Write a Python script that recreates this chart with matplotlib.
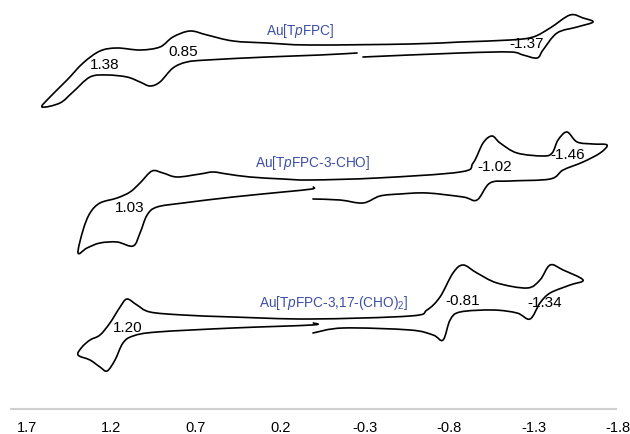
import matplotlib
import matplotlib.pyplot as plt
from matplotlib.path import Path
from matplotlib.patches import PathPatch

matplotlib.use("Agg")

plt.rcParams["font.family"] = ["Liberation Sans", "DejaVu Sans"]
plt.rcParams["mathtext.fontset"] = "custom"
plt.rcParams["mathtext.rm"] = "Liberation Sans"
plt.rcParams["mathtext.it"] = "Liberation Sans:italic"
plt.rcParams["axes.unicode_minus"] = False

# potential (V) and current (arb. units) for each voltammogram
# each trace runs from the start gap near -0.3 V, out to the cathodic end, over to
# the anodic end and back to the gap
cv1_e = [-0.289, -0.864, -1.160, -1.237, -1.320, -1.355, -1.438, -1.557, -1.651,
         -1.592, -1.515, -1.397, -1.296, -1.160, -0.864, -0.568, 0.024, 0.279, 0.480,
         0.634, 0.735, 0.836, 0.913, 1.031, 1.167, 1.268, 1.368, 1.463, 1.564, 1.611,
         1.505, 1.428, 1.327, 1.226, 1.108, 1.031, 0.972, 0.913, 0.836, 0.753, 0.634,
         0.279, -0.035, -0.254]
cv1_i = [-7, -3, -2, -5, -8, 0, 17, 23, 28,
         32, 35, 22, 13, 10, 8, 6, 5, 7, 9,
         15, 19, 13, 3, 0, 2, -1, -13, -30, -47, -57,
         -53, -42, -27, -25, -27, -32, -36, -32, -18, -12, -10,
         -7, -5, -3]

cv2_e = [0.007, -0.153, -0.289, -0.390, -0.509, -0.668, -0.882, -0.964, -1.041, -1.160,
         -1.397, -1.474, -1.592, -1.693, -1.734,
         -1.651, -1.557, -1.497, -1.444, -1.409, -1.355, -1.201, -1.101, -1.053,
         -1.000, -0.941, -0.864, -0.372, 0.024, 0.184, 0.380, 0.516, 0.599, 0.676,
         0.812, 0.895, 0.960, 1.031, 1.090, 1.167, 1.268, 1.327, 1.368, 1.398,
         1.345, 1.268, 1.167, 1.072, 1.031, 0.989, 0.930, 0.776, 0.480, 0.184,
         0.013, 0.005]
cv2_i = [-14, -15, -18, -11, -9, -8, -12, -15, 2, 4,
         6, 15, 23, 32, 40,
         41, 43, 53, 45, 32, 29, 32, 42, 49,
         42, 22, 13, 7, 5, 6, 8, 11, 13, 11,
         8, 12, 14, 2, -7, -13, -18, -28, -45, -68,
         -63, -58, -57, -61, -48, -30, -22, -18, -12, -7,
         -4, -2]

cv3_e = [0.007, -0.171, -0.568, -0.704, -0.763, -0.805, -0.864, -1.059, -1.201,
         -1.278, -1.337, -1.397, -1.515, -1.592,
         -1.474, -1.397, -1.337, -1.261, -1.083, -0.964, -0.882, -0.822, -0.745,
         -0.668, -0.568, 0.024, 0.480, 0.776, 0.972, 1.049, 1.108, 1.149, 1.209,
         1.268, 1.327, 1.374, 1.398,
         1.327, 1.268, 1.226, 1.179, 1.132, 1.072, 0.930, 0.480, 0.013, 0.005]
cv3_i = [-13, -8, -10, -15, -20, 0, 8, 10, 7,
         1, 17, 27, 35, 40,
         50, 55, 40, 32, 37, 47, 55, 47, 23,
         10, 4, 1, 3, 5, 8, 15, 21, 13, -3,
         -15, -20, -27, -35,
         -40, -47, -51, -40, -23, -16, -12, -8, -5, -3]

names = ["Au[T$\\it{p}$FPC]", "Au[T$\\it{p}$FPC-3-CHO]", "Au[T$\\it{p}$FPC-3,17-(CHO)$_2$]"]
name_pos = [(0.083, 19), (0.007, 22), (-0.112, 17)]

peak_labels = [["1.38", "0.85", "-1.37"], ["1.03", "-1.02", "-1.46"], ["1.20", "-0.81", "-1.34"]]
peak_pos = [[(1.238, -15), (0.776, -2), (-1.260, 6)],
            [(1.090, -23), (-1.071, 18), (-1.503, 30)],
            [(1.102, -8), (-0.882, 19), (-1.367, 17)]]

ticks = [1.7, 1.2, 0.7, 0.2, -0.3, -0.8, -1.3, -1.8]

# vertical stacking of the three traces
offsets = [-50, -185, -320]


def smooth_path(xs, ys):
    # catmull-rom through the read points, handed to matplotlib as cubic beziers
    pts = list(zip(xs, ys))
    n = len(pts)
    verts = [pts[0]]
    codes = [Path.MOVETO]
    for i in range(n - 1):
        p0 = pts[i - 1] if i > 0 else pts[i]
        p1 = pts[i]
        p2 = pts[i + 1]
        p3 = pts[i + 2] if i + 2 < n else pts[i + 1]
        c1 = (p1[0] + (p2[0] - p0[0]) / 6, p1[1] + (p2[1] - p0[1]) / 6)
        c2 = (p2[0] - (p3[0] - p1[0]) / 6, p2[1] - (p3[1] - p1[1]) / 6)
        verts += [c1, c2, p2]
        codes += [Path.CURVE4] * 3
    return Path(verts, codes)


fig = plt.figure(figsize=(6.3, 4.34), dpi=100)
ax = fig.add_axes([0, 0, 1, 1])

traces = [(cv1_e, cv1_i), (cv2_e, cv2_i), (cv3_e, cv3_i)]
for k, (e, cur) in enumerate(traces):
    off = offsets[k]
    path = smooth_path(e, [c + off for c in cur])
    ax.add_patch(PathPatch(path, facecolor="none", edgecolor="black", lw=1.2,
                           joinstyle="round", capstyle="round"))
    ax.text(name_pos[k][0], name_pos[k][1] + off, names[k], color="#3d4fa6",
            fontsize=9.8, ha="center", va="center")
    for lab, (px, py) in zip(peak_labels[k], peak_pos[k]):
        ax.text(px, py + off, lab, fontsize=11, ha="center", va="center")

ax.set_xlim(1.860, -1.870)
ax.set_ylim(-434, 0)

for s in ["top", "left", "right"]:
    ax.spines[s].set_visible(False)
ax.spines["bottom"].set_position(("data", -409))
ax.spines["bottom"].set_bounds(-1.788, 1.795)
ax.spines["bottom"].set_color("#d0d0d0")
ax.spines["bottom"].set_linewidth(1.5)

ax.set_xticks(ticks)
ax.set_xticklabels([f"{t:.1f}" for t in ticks])
ax.tick_params(axis="x", length=0, pad=9, labelsize=10.5)
ax.set_yticks([])

plt.savefig("out.png", dpi=100)
plt.close()
